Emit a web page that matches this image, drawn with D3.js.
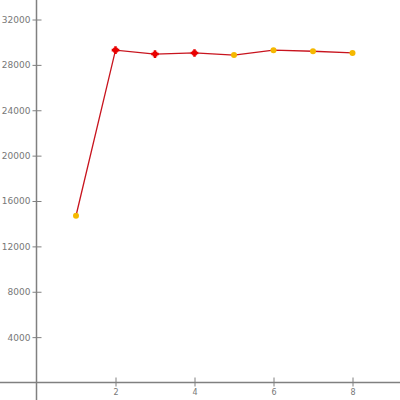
<!DOCTYPE html>
<html><head><meta charset="utf-8">
<script src="https://cdn.jsdelivr.net/npm/d3@7"></script>
<style>body{margin:0;background:#fff}svg{display:block}</style>
</head><body>
<script>
const xValues = [1, 2, 3, 4, 5, 6, 7, 8];
const yValues = [14700, 29300, 28950, 29050, 28860, 29300, 29200, 29050];
const markerKinds = ["gold", "red", "red", "red", "gold", "gold", "gold", "gold"];
const xTicks = [2, 4, 6, 8];
const yTicks = [4000, 8000, 12000, 16000, 20000, 24000, 28000, 32000];

const W = 400, H = 400;
const svg = d3.select("body").append("svg").attr("width", W).attr("height", H);
const x = d3.scaleLinear().domain([0, 8]).range([36.5, 352.5]);
const y = d3.scaleLinear().domain([0, 32000]).range([382.5, 19.5]);

const axisColor = "#808080";
svg.append("line").attr("x1", 0).attr("x2", W).attr("y1", y(0)).attr("y2", y(0))
  .attr("stroke", axisColor).attr("stroke-width", 1.5);
svg.append("line").attr("x1", x(0)).attr("x2", x(0)).attr("y1", 0).attr("y2", H)
  .attr("stroke", axisColor).attr("stroke-width", 1.5);

const yAxis = d3.axisLeft(y).tickValues(yTicks).tickFormat(d3.format("d")).tickSize(4).tickSizeOuter(0).tickPadding(3);
const gy = svg.append("g").attr("transform", `translate(${x(0)},0)`).call(yAxis);
gy.select(".domain").remove();
gy.selectAll(".tick line").attr("x2", 5).attr("x1", -4).attr("stroke", axisColor);
gy.selectAll(".tick text").attr("fill", "#777").style("font", "9px 'DejaVu Sans', sans-serif").attr("x", -6);

const xAxis = d3.axisBottom(x).tickValues(xTicks).tickFormat(d3.format("d")).tickSize(4).tickSizeOuter(0).tickPadding(3);
const gx = svg.append("g").attr("transform", `translate(0,${y(0)})`).call(xAxis);
gx.select(".domain").remove();
gx.selectAll(".tick line").attr("y1", -5).attr("y2", 4).attr("stroke", axisColor);
gx.selectAll(".tick text").attr("fill", "#777").style("font", "8px 'DejaVu Sans', sans-serif").attr("y", 7);

const pts = xValues.map((v, i) => ({x: v, y: yValues[i], k: markerKinds[i]}));
svg.append("path").datum(pts)
  .attr("d", d3.line().x(d => x(d.x)).y(d => y(d.y)))
  .attr("fill", "none").attr("stroke", "#c8141e").attr("stroke-width", 1.3);

svg.selectAll(".gold").data(pts.filter(d => d.k === "gold")).join("circle")
  .attr("cx", d => x(d.x)).attr("cy", d => y(d.y)).attr("r", 3)
  .attr("fill", "#f5b800");
svg.selectAll(".red").data(pts.filter(d => d.k === "red")).join("path")
  .attr("transform", d => `translate(${x(d.x)},${y(d.y)})`)
  .attr("d", d3.symbol().type(d3.symbolSquare).size(22))
  .attr("fill", "#e80000");
svg.selectAll(".red2").data(pts.filter(d => d.k === "red")).join("path")
  .attr("transform", d => `translate(${x(d.x)},${y(d.y)})`)
  .attr("d", d3.symbol().type(d3.symbolCross).size(32))
  .attr("fill", "#e80000");
</script>
</body></html>
